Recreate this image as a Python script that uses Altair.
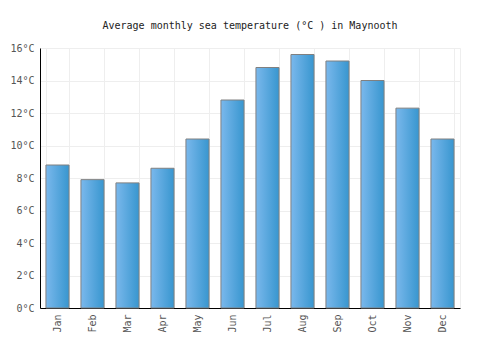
import altair as alt
import pandas as pd

months = ["Jan", "Feb", "Mar", "Apr", "May", "Jun", "Jul", "Aug", "Sep", "Oct", "Nov", "Dec"]
temps = [8.8, 7.9, 7.7, 8.6, 10.4, 12.8, 14.8, 15.6, 15.2, 14.0, 12.3, 10.4]

df = pd.DataFrame({"month": months, "temp": temps})

FONT = "DejaVu Sans Mono"

chart = (
    alt.Chart(df)
    .mark_bar(
        fill=alt.Gradient(
            gradient="linear",
            x1=0, x2=1, y1=0, y2=0,
            stops=[alt.GradientStop(color="#7ab8ec", offset=0),
                   alt.GradientStop(color="#3896cf", offset=1)],
        ),
        stroke="#808080",
        strokeWidth=1,
    )
    .encode(
        x=alt.X(
            "month:N",
            sort=months,
            scale=alt.Scale(paddingInner=0.34, paddingOuter=0.17),
            axis=alt.Axis(
                title=None,
                labelAngle=-90,
                labelFont=FONT,
                labelFontSize=10,
                labelColor="#555555",
                labelPadding=6,
                ticks=False,
                domainColor="#000000",
                grid=True,
                gridColor="#eeeeee",
                tickBand="extent",
            ),
        ),
        y=alt.Y(
            "temp:Q",
            scale=alt.Scale(domain=[0, 16]),
            axis=alt.Axis(
                title=None,
                values=[0, 2, 4, 6, 8, 10, 12, 14, 16],
                labelExpr="datum.value + '°C'",
                labelFont=FONT,
                labelFontSize=10,
                labelColor="#555555",
                labelPadding=6,
                ticks=False,
                domainColor="#000000",
                grid=True,
                gridColor="#eeeeee",
            ),
        ),
    )
    .properties(
        width=420,
        height=260,
        title=alt.TitleParams(
            "Average monthly sea temperature (°C ) in Maynooth",
            font=FONT,
            fontSize=10,
            fontWeight="normal",
            color="#222222",
            anchor="middle",
            offset=12,
        ),
        autosize=alt.AutoSizeParams(type="none"),
        padding={"left": 40, "top": 48, "right": 40, "bottom": 42},
    )
    .configure_view(stroke="#eeeeee")
)

chart.save("out.html", embed_options={"renderer": "svg", "actions": False})
